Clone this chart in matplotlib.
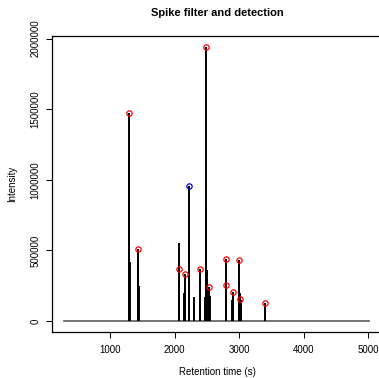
import matplotlib
matplotlib.use("Agg")
import matplotlib.pyplot as plt

plt.rcParams['font.family'] = ['Liberation Sans', 'DejaVu Sans']

# chromatogram spikes (retention time, intensity)
spike_rt = [1296, 1298, 1299, 1301, 1303,
            1436, 1438, 1439, 1442,
            2064, 2067, 2070, 2073,
            2154, 2160, 2165, 2168,
            2220, 2225, 2228,
            2296,
            2389, 2395,
            2475, 2484, 2486, 2488, 2491, 2494, 2497,
            2537, 2540, 2543,
            2800, 2803, 2806,
            2899, 2901,
            2996, 3005, 3008, 3020, 3024,
            3408]
spike_int = [775000, 1094000, 1473000, 1180000, 420000,
             220000, 411000, 508500, 250000,
             551000, 243000, 366700, 200000,
             199000, 150000, 331200, 180000,
             200000, 957000, 590000,
             170000,
             250000, 369000,
             170000, 362000, 420000, 1941000, 801000, 693000, 362000,
             200000, 243000, 180000,
             253000, 442000, 200000,
             150000, 208000,
             279000, 435000, 200000, 158000, 150000,
             130000]

# baseline extent
rt_start = 290
rt_end = 5020

# detected peaks
peak_rt = [1299, 1439, 2070, 2165, 2395, 2488, 2540, 2803, 2800, 2901, 3005, 3022, 3408]
peak_int = [1473000, 508500, 366700, 331200, 369000, 1941000, 243000, 442000, 253000,
            208000, 435000, 158000, 130000]

# highlighted peak
sel_rt = [2225]
sel_int = [957000]

fig = plt.figure(figsize=(3.79, 3.78), dpi=100)
ax = fig.add_axes([52 / 379, 1 - 332 / 378, (381.5 - 52) / 379, (332 - 36) / 378])

ax.plot([rt_start, rt_end], [0, 0], color='#5a5a5a', lw=1.2, zorder=1)
ax.vlines(spike_rt, 0, spike_int, color='black', lw=1.4, zorder=2)
ax.plot(peak_rt, peak_int, 'o', mfc='none', mec='red', ms=3.8, mew=0.9, zorder=3)
ax.plot(sel_rt, sel_int, 'o', mfc='none', mec='blue', ms=3.8, mew=0.9, zorder=3)

# R style 4% padding
xr = rt_end - rt_start
ax.set_xlim(rt_start - 0.04 * xr, rt_end + 0.04 * xr)
yr = max(spike_int)
ax.set_ylim(-0.04 * yr, yr * 1.04)

ax.set_xticks([1000, 2000, 3000, 4000, 5000])
ax.set_yticks([0, 500000, 1000000, 1500000, 2000000])
ax.set_yticklabels(['0', '500000', '1000000', '1500000', '2000000'])
ax.tick_params(axis='both', direction='out', length=4.5, width=0.75, labelsize=7)
ax.tick_params(axis='x', pad=5)
ax.tick_params(axis='y', pad=4, labelrotation=90)
for lbl in ax.get_yticklabels():
    lbl.set_va('center')
for s in ax.spines.values():
    s.set_linewidth(0.9)

fig.text(217 / 379, 1 - 13 / 378, 'Spike filter and detection', ha='center', va='center',
         fontsize=8, fontweight='bold')
fig.text(217 / 379, 1 - 372 / 378, 'Retention time (s)', ha='center', va='center', fontsize=7)
fig.text(12 / 379, 1 - 184 / 378, 'Intensity', ha='center', va='center', fontsize=7, rotation=90)

fig.savefig('out.png', dpi=100)
